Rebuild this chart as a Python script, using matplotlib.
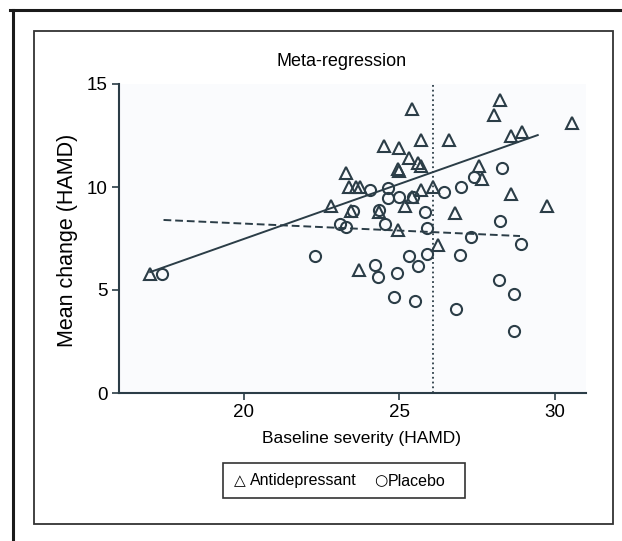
import matplotlib
matplotlib.use('Agg')
import matplotlib.pyplot as plt
from matplotlib.patches import Rectangle
from matplotlib.lines import Line2D

plt.rcParams['font.family'] = ['Liberation Sans', 'DejaVu Sans']

# antidepressant arms (triangles): baseline HAMD, mean change
anti_x = [17.0, 22.8, 23.3, 23.4, 23.6, 23.75, 23.45, 23.7, 24.35, 24.5,
          24.95, 25.0, 24.95, 25.0, 25.2, 25.3, 25.4, 25.4, 25.6, 25.7,
          25.7, 25.7, 26.1, 26.25, 26.6, 26.8, 27.55, 27.65, 28.05, 28.25,
          28.6, 28.6, 28.95, 29.75, 30.55]
anti_y = [5.8, 9.1, 10.7, 10.0, 10.0, 10.0, 8.85, 5.95, 8.8, 12.0,
          10.85, 10.8, 7.9, 11.9, 9.1, 11.4, 13.8, 9.5, 11.15, 11.0,
          12.3, 9.85, 10.0, 7.2, 12.3, 8.75, 11.0, 10.4, 13.5, 14.2,
          12.5, 9.65, 12.65, 9.1, 13.1]

# placebo arms (circles)
plac_x = [17.38, 22.3, 23.1, 23.3, 23.5, 24.05, 24.23, 24.31, 24.36, 24.53,
          24.63, 24.63, 24.83, 24.94, 25.0, 25.3, 25.45, 25.52, 25.6, 25.82,
          25.9, 25.9, 26.44, 26.81, 26.95, 26.97, 27.32, 27.4, 28.2, 28.24,
          28.31, 28.7, 28.7, 28.92]
plac_y = [5.78, 6.67, 8.2, 8.04, 8.85, 9.85, 6.21, 5.65, 8.88, 8.2,
          9.93, 9.45, 4.67, 5.81, 9.53, 6.67, 9.5, 4.48, 6.17, 8.8,
          7.99, 6.75, 9.77, 4.08, 6.7, 10.01, 7.59, 10.5, 5.5, 8.36,
          10.91, 4.8, 3.0, 7.23]

# fitted meta-regression lines (end points)
anti_fit_x = [17.0, 29.45]
anti_fit_y = [5.87, 12.52]
plac_fit_x = [17.43, 28.88]
plac_fit_y = [8.40, 7.62]
cutoff = 26.1

ink = '#2b3d47'

fig = plt.figure(figsize=(6.22, 5.41), dpi=100)

# outer and inner frames
W, H = 622, 541
fig.add_artist(Line2D([10 / W, 1.0], [1 - 10 / H, 1 - 10 / H], color='#1a1a1a', lw=2.2))
fig.add_artist(Line2D([13 / W, 13 / W], [0, 1 - 10 / H], color='#1a1a1a', lw=2.2))
fig.add_artist(Rectangle((34 / W, 1 - 524 / H), (613 - 34) / W, (524 - 31) / H,
                         fill=False, ec='#333333', lw=1.3, transform=fig.transFigure))

ax = fig.add_axes([119 / W, 1 - 393 / H, (586 - 119) / W, (393 - 84) / H])
ax.set_facecolor('#fafbfd')

ax.plot(anti_x, anti_y, '^', ms=8.5, mfc='none', mec=ink, mew=1.5, clip_on=False)
ax.plot(plac_x, plac_y, 'o', ms=8, mfc='none', mec=ink, mew=1.5, clip_on=False)
ax.plot(anti_fit_x, anti_fit_y, '-', color=ink, lw=1.4)
ax.plot(plac_fit_x, plac_fit_y, '--', color=ink, lw=1.4, dashes=(4, 2))
ax.axvline(cutoff, color=ink, lw=1.3, ls=':')

ax.set_xlim(16, 31)
ax.set_ylim(0, 15)
ax.set_xticks([20, 25, 30])
ax.set_yticks([0, 5, 10, 15])
for s in ['top', 'right']:
    ax.spines[s].set_visible(False)
for s in ['left', 'bottom']:
    ax.spines[s].set_color(ink)
    ax.spines[s].set_linewidth(1.5)
ax.tick_params(direction='out', length=5, width=1.2, color=ink, labelsize=13.5, pad=3)

fig.text(342 / W, 1 - 62 / H, 'Meta-regression', ha='center', va='center', fontsize=13)
fig.text(361 / W, 1 - 438 / H, 'Baseline severity (HAMD)', ha='center', va='center', fontsize=12.5)
fig.text(68 / W, 1 - 240 / H, 'Mean change (HAMD)', ha='center', va='center',
         rotation=90, fontsize=15.5)

# legend box
fig.add_artist(Rectangle((223 / W, 1 - 498 / H), (465 - 223) / W, (498 - 463) / H,
                         fill=False, ec='#333333', lw=1.2, transform=fig.transFigure))
fig.text(234 / W, 1 - 481 / H, '\u25b3', ha='left', va='center', fontsize=11,
         family='DejaVu Sans')
fig.text(250 / W, 1 - 481 / H, 'Antidepressant', ha='left', va='center', fontsize=11.5)
fig.text(374 / W, 1 - 481 / H, '\u25cb', ha='left', va='center', fontsize=11,
         family='DejaVu Sans')
fig.text(388 / W, 1 - 481 / H, 'Placebo', ha='left', va='center', fontsize=11.5)

fig.savefig('out.png', dpi=100)
